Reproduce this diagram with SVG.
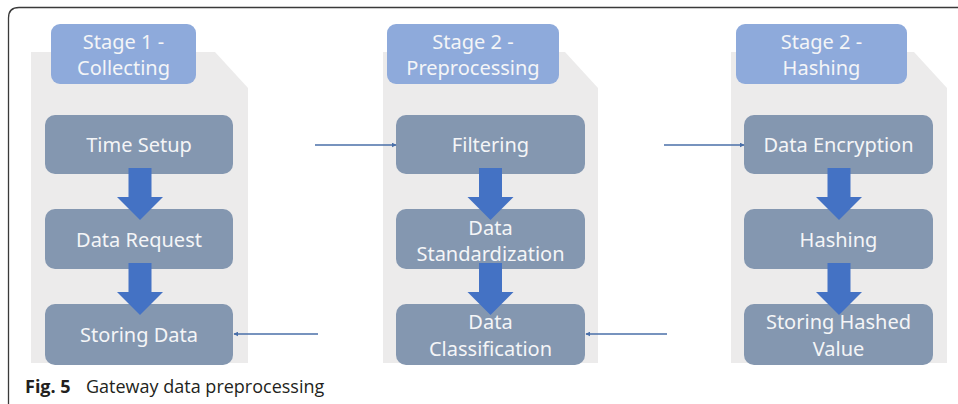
<svg xmlns="http://www.w3.org/2000/svg" width="958" height="404" viewBox="0 0 958 404">
<defs>
<style>
.panel{fill:#ecebeb}
.lbl{fill:#8eaadb}
.node{fill:#8497b0}
.t{font-family:"Noto Sans","Open Sans","DejaVu Sans",sans-serif;font-size:20px;fill:#f4f5f7;text-anchor:middle}
.blk{fill:#4472c4}
.con{stroke:#4a6fa8;stroke-width:1.4;fill:none;marker-end:url(#ah)}
.cap{font-family:"Open Sans","Noto Sans",sans-serif;font-size:18px;fill:#231f20}
</style>
<marker id="ah" viewBox="0 0 8 8" refX="7" refY="4" markerWidth="5" markerHeight="5" orient="auto" markerUnits="userSpaceOnUse">
<path d="M0,0 L8,4 L0,8 Z" fill="#4a6fa8"/>
</marker>
</defs>
<rect width="958" height="404" fill="#ffffff"/>
<path d="M8.5,404 V18 Q8.5,7.5 19,7.5 H958" fill="none" stroke="#3a3a3a" stroke-width="1.3"/>

<g id="stage1">
<polygon class="panel" points="31,52 215,52 248,88 248,363 31,363"/>
<g id="stage1-label"><rect class="lbl" x="51" y="24" width="145" height="60" rx="9"/>
<text class="t" x="123.5" y="49">Stage 1 -</text><text class="t" x="123.5" y="75">Collecting</text></g>
<g id="time-setup"><rect class="node" x="45" y="115" width="188" height="59" rx="10"/><text class="t" x="139" y="152">Time Setup</text></g>
<g id="data-request"><rect class="node" x="45" y="209" width="188" height="60" rx="10"/><text class="t" x="139" y="247">Data Request</text></g>
<g id="storing-data"><rect class="node" x="45" y="304" width="188" height="61" rx="10"/><text class="t" x="139" y="342">Storing Data</text></g>
</g>

<g id="stage2">
<polygon class="panel" points="383,52 565,52 598,88 598,363 383,363"/>
<g id="stage2-label"><rect class="lbl" x="387" y="24" width="172" height="60" rx="9"/>
<text class="t" x="473" y="49">Stage 2 -</text><text class="t" x="473" y="75">Preprocessing</text></g>
<g id="filtering"><rect class="node" x="396" y="115" width="189" height="59" rx="10"/><text class="t" x="490.5" y="152">Filtering</text></g>
<g id="data-standardization"><rect class="node" x="396" y="209" width="189" height="60" rx="10"/><text class="t" x="490.5" y="235">Data</text><text class="t" x="490.5" y="261">Standardization</text></g>
<g id="data-classification"><rect class="node" x="396" y="304" width="189" height="61" rx="10"/><text class="t" x="490.5" y="329">Data</text><text class="t" x="490.5" y="356">Classification</text></g>
</g>

<g id="stage3">
<polygon class="panel" points="731,52 914,52 947,88 947,363 731,363"/>
<g id="stage3-label"><rect class="lbl" x="736" y="24" width="171" height="60" rx="9"/>
<text class="t" x="821.5" y="49">Stage 2 -</text><text class="t" x="821.5" y="75">Hashing</text></g>
<g id="data-encryption"><rect class="node" x="744" y="115" width="189" height="59" rx="10"/><text class="t" x="838.5" y="152">Data Encryption</text></g>
<g id="hashing"><rect class="node" x="744" y="209" width="189" height="60" rx="10"/><text class="t" x="838.5" y="247">Hashing</text></g>
<g id="storing-hashed"><rect class="node" x="744" y="304" width="189" height="61" rx="10"/><text class="t" x="838.5" y="329">Storing Hashed</text><text class="t" x="838.5" y="356">Value</text></g>
</g>

<g id="connectors">
<path class="blk" d="M128.5,168 h23 v29 h11.5 L140,220 L117,197 h11.5 Z"/>
<path class="blk" d="M128.5,263 h23 v29 h11.5 L140,315 L117,292 h11.5 Z"/>
<path class="blk" d="M479,168 h23 v29 h11.5 L490.5,220 L467.5,197 h11.5 Z"/>
<path class="blk" d="M479,263 h23 v29 h11.5 L490.5,315 L467.5,292 h11.5 Z"/>
<path class="blk" d="M827.5,168 h23 v29 h11.5 L839,220 L816,197 h11.5 Z"/>
<path class="blk" d="M827.5,263 h23 v29 h11.5 L839,315 L816,292 h11.5 Z"/>
<line class="con" x1="315" y1="145" x2="396" y2="145"/>
<line class="con" x1="664" y1="145" x2="744" y2="145"/>
<line class="con" x1="318" y1="334" x2="234" y2="334"/>
<line class="con" x1="667" y1="334" x2="586" y2="334"/>
</g>

<text class="cap" x="25" y="393"><tspan font-weight="bold">Fig. 5</tspan><tspan x="86">Gateway data preprocessing</tspan></text>
</svg>
